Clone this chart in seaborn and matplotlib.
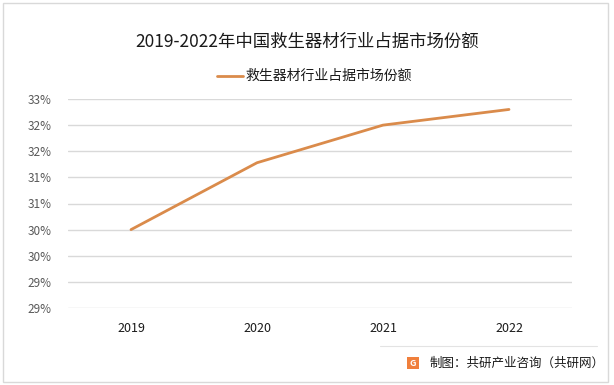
import matplotlib
matplotlib.use("Agg")
import matplotlib.pyplot as plt
import seaborn as sns
import pandas as pd
from matplotlib.patches import Rectangle
from matplotlib.lines import Line2D

years = ["2019", "2020", "2021", "2022"]
share = [30.5, 31.78, 32.5, 32.8]
series_name = "救生器材行业占据市场份额"
title = "2019-2022年中国救生器材行业占据市场份额"
ytick_values = [29.0, 29.5, 30.0, 30.5, 31.0, 31.5, 32.0, 32.5, 33.0]
ytick_labels = ["29%", "29%", "30%", "30%", "31%", "31%", "32%", "32%", "33%"]
footer = "制图：共研产业咨询（共研网）"

sns.set_theme(style="white")
plt.rcParams['font.family'] = ['Noto Sans CJK SC', 'DejaVu Sans']

df = pd.DataFrame({"year": years, "share": share})

fig = plt.figure(figsize=(6.14, 3.85), dpi=100)
ax = fig.add_axes([68/614, 77/385, 504/614, 209/385])

sns.lineplot(data=df, x="year", y="share", ax=ax, color="#DA8B4B", linewidth=2.0,
             sort=False, label=series_name, legend=False)

ax.set_xlim(-0.5, 3.5)
ax.set_ylim(29, 33)
ax.set_yticks(ytick_values)
ax.set_yticklabels(ytick_labels)
ax.yaxis.grid(True, color="#d9d9d9", linewidth=1.0)
ax.xaxis.grid(False)
for s in ax.spines.values():
    s.set_visible(False)
ax.tick_params(axis='y', length=0, labelsize=8.5, labelcolor="#595959", pad=12)
ax.tick_params(axis='x', length=0, labelsize=9, labelcolor="#1a1a1a", pad=10)
ax.set_xlabel("")
ax.set_ylabel("")

fig.text(0.5, 1 - 42/385, title, fontsize=12.5, ha='center', va='center', color='#1a1a1a')

# legend
fig.add_artist(Line2D([217/614, 243/614], [1 - 76/385, 1 - 76/385], color="#DA8B4B", linewidth=2.0))
fig.text(246/614, 1 - 76/385, series_name, fontsize=10, ha='left', va='center', color='#1a1a1a')

# footer
fig.add_artist(Line2D([380/614, 597/614], [1 - 346/385, 1 - 346/385], color="#e3e3e3", linewidth=0.8))
fig.add_artist(Rectangle((407/614, 1 - 369/385), 12/614, 12/385, transform=fig.transFigure,
                         facecolor="#F07F3C", edgecolor='none'))
fig.text(413/614, 1 - 363/385, "G", fontsize=6.5, fontweight='bold', color='white', ha='center', va='center')
fig.text(430/614, 1 - 363/385, footer, fontsize=9, ha='left', va='center', color='#1a1a1a')

# border
fig.add_artist(Rectangle((3/614, 3/385), 605/614, 379/385, transform=fig.transFigure,
                         fill=False, edgecolor="#d9d9d9", linewidth=1.0))

fig.savefig("out.png", dpi=100)
